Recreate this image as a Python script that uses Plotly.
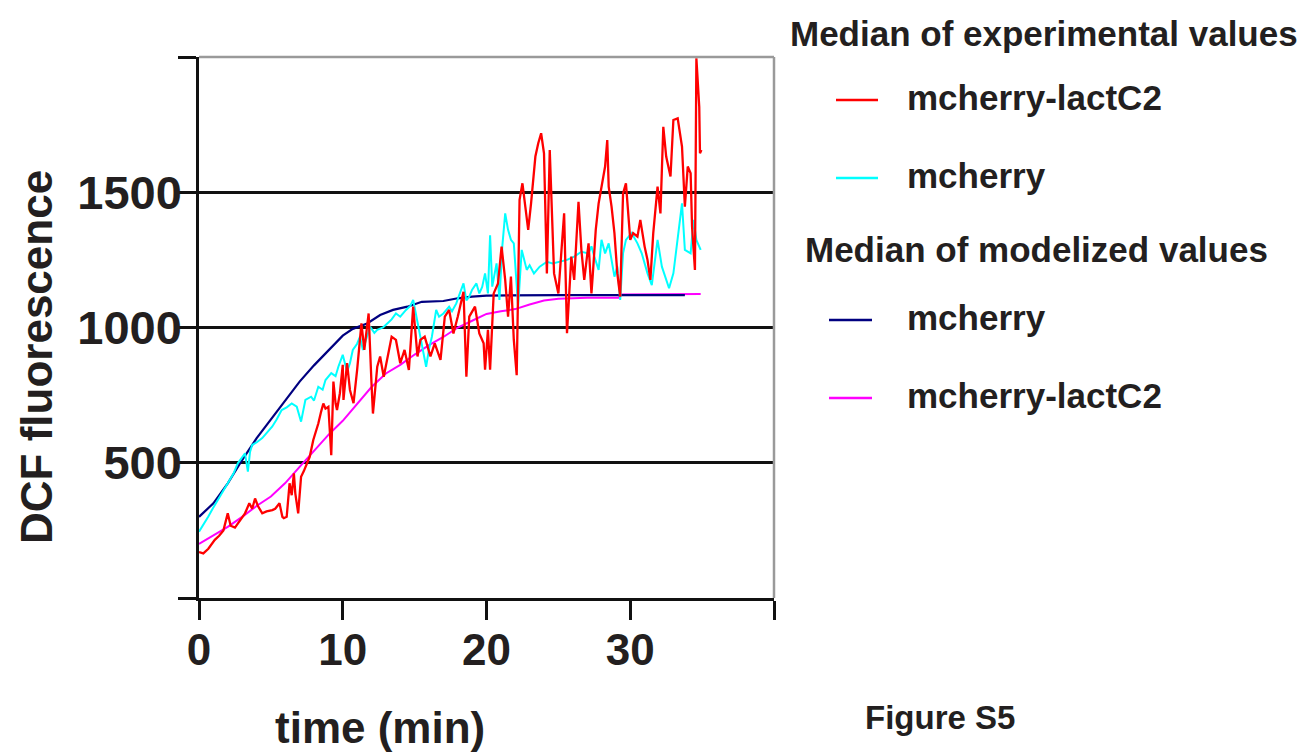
import plotly.graph_objects as go

# ---------------- data ----------------
red_t = [0, 0.3, 0.65, 0.9, 1.1, 1.4, 1.7, 2.0, 2.2, 2.5, 2.7, 3.0, 3.2, 3.5, 3.7, 3.9, 4.1, 4.4, 4.7, 5.1,
         5.3, 5.6, 5.8, 5.9, 6.1, 6.3, 6.45, 6.6, 6.7, 6.9, 7.1, 7.3, 7.5, 7.7, 7.95, 8.1, 8.3, 8.5, 8.65, 8.8,
         9.0, 9.2, 9.35, 9.5, 9.6, 9.8, 10.0, 10.05, 10.3, 10.5, 10.75, 11.0, 11.3, 11.5, 11.8, 12.0, 12.1, 12.4,
         12.6, 12.85, 13.2, 13.4, 13.7, 14.0, 14.3, 14.6, 14.9, 15.2, 15.4, 15.7, 16.1, 16.4, 16.8, 17.1, 17.4,
         17.7, 18.0, 18.4, 18.6, 18.8, 19.2, 19.5, 19.8, 19.9, 20.1, 20.25, 20.5, 20.8, 21.05, 21.3, 21.5, 21.7,
         21.9, 22.1, 22.3, 22.5, 22.7, 22.9, 23.1, 23.4, 23.6, 23.8, 24.0, 24.2, 24.4, 24.6, 24.7, 25.0, 25.4,
         25.6, 25.9, 26.1, 26.4, 26.6, 26.8, 27.1, 27.3, 27.4, 27.6, 27.8, 28.0, 28.25, 28.4, 28.5, 28.7, 28.9,
         29.1, 29.3, 29.5, 29.7, 30.0, 30.2, 30.5, 30.7, 31.0, 31.2, 31.4, 31.6, 31.9, 32.1, 32.3, 32.5, 32.8,
         33.0, 33.3, 33.6, 33.8, 34.0, 34.2, 34.3, 34.5, 34.6, 34.8, 34.85, 34.95]
red_v = [170, 165, 182, 200, 215, 230, 250, 313, 267, 260, 276, 300, 313, 350, 330, 368, 340, 313, 320, 325,
         330, 350, 300, 295, 300, 424, 380, 461, 387, 313, 448, 470, 497, 522, 584, 610, 645, 690, 719, 700,
         707, 528, 800, 720, 695, 757, 862, 732, 868, 769, 720, 843, 1015, 917, 1052, 794, 682, 855,
         893, 818, 917, 966, 954, 868, 917, 843, 1077, 893, 954, 966, 893, 941, 880, 1040, 1065,
         978, 1040, 1132, 818, 1040, 1077, 978, 942, 844, 991, 844, 1126, 1163, 1299, 1176, 1040, 1188,
         954, 824, 1472, 1533, 1447, 1361, 1459, 1632, 1681, 1718, 1644, 1200, 1656, 1385, 1200, 1126, 1422,
         979, 1262, 1176, 1465, 1287, 1176, 1311, 1126, 1200, 1361, 1459, 1521, 1595, 1693, 1521, 1447, 1349,
         1200, 1114, 1496, 1533, 1324, 1349, 1336, 1398, 1299, 1250, 1176, 1349, 1521, 1422, 1742, 1632, 1558,
         1767, 1773, 1669, 1447, 1595, 1570, 1373, 1213, 1995, 1816, 1644, 1656]

cyan_t = [0, 0.3, 0.65, 1.0, 1.3, 1.7, 2.0, 2.4, 2.7, 3.0, 3.2, 3.4, 3.55, 3.7, 4.0, 4.4, 4.7, 5.1, 5.4, 5.75,
          6.1, 6.45, 6.8, 7.1, 7.4, 7.8, 8.0, 8.3, 8.6, 8.8, 9.2, 9.5, 9.7, 10.0, 10.3, 10.5, 10.7, 11.0, 11.2,
          11.4, 11.9, 12.2, 12.4, 12.8, 13.1, 13.4, 13.7, 14.0, 14.4, 14.7, 14.9, 15.1, 15.3, 15.6, 15.8, 16.0,
          16.2, 16.5, 16.7, 17.0, 17.4, 17.6, 17.9, 18.1, 18.4, 18.6, 18.8, 19.0, 19.3, 19.5, 19.7, 19.9, 20.1,
          20.25, 20.4, 20.7, 20.9, 21.1, 21.3, 21.5, 21.7, 21.9, 22.2, 22.45, 22.8, 23.0, 23.3, 23.7, 24.2, 24.6,
          25.1, 25.6, 26.1, 26.6, 27.1, 27.3, 27.5, 27.8, 28.0, 28.25, 28.5, 28.7, 28.9, 29.1, 29.3, 29.5, 29.7,
          30.1, 30.5, 30.8, 31.2, 31.5, 31.9, 32.2, 32.7, 33.0, 33.4, 33.6, 33.8, 34.2, 34.4, 34.6, 34.9]
cyan_v = [245, 270, 301, 335, 363, 395, 424, 460, 498, 520, 535, 467, 540, 566, 575, 591, 610, 634, 660, 695,
          705, 719, 707, 652, 732, 744, 730, 781, 770, 806, 831, 820, 856, 899, 837, 868, 917, 940, 966,
          917, 1003, 980, 991, 1000, 1015, 1030, 1052, 1040, 1065, 1080, 1102, 1050, 991, 917, 855, 920,
          966, 1065, 1040, 1052, 1077, 1060, 1089, 1120, 1163, 1100, 1114, 1140, 1163, 1126, 1150, 1200, 1126,
          1341, 1151, 1237, 1102, 1300, 1422, 1361, 1324, 1311, 1077, 1287, 1213, 1230, 1200, 1225, 1243, 1237,
          1243, 1250, 1262, 1280, 1274, 1300, 1262, 1213, 1324, 1274, 1311, 1250, 1188, 1225, 1102, 1274, 1324,
          1349, 1311, 1274, 1200, 1157, 1324, 1225, 1145, 1200, 1385, 1459, 1287, 1274, 1398, 1324, 1287]

navy_t = [0, 0.5, 1, 2, 3, 4, 5, 6, 7, 8, 9, 10, 10.7, 11.7, 12.6, 13.5, 14.5, 15.5, 17, 18, 19, 20, 25, 33.8]
navy_v = [300, 325, 350, 424, 510, 590, 660, 730, 800, 860, 917, 970, 995, 1015, 1046, 1065, 1077, 1095,
          1098, 1108, 1114, 1118, 1120, 1120]

magenta_t = [0, 1, 2, 3, 4, 5, 6, 7, 8, 9, 10, 11, 12, 13, 14, 15, 16, 17, 18, 19, 20, 21, 22, 23, 24, 25,
             26, 27, 29.2, 29.3, 34.9]
magenta_v = [200, 230, 263, 300, 340, 375, 425, 485, 545, 603, 655, 719, 780, 830, 862, 900, 935, 965, 1000,
             1025, 1050, 1060, 1068, 1085, 1100, 1106, 1108, 1110, 1110, 1122, 1124]

x_tickvals = [0, 10, 20, 30, 40]
x_ticktext = ["0", "10", "20", "30", ""]
y_tickvals = [0, 500, 1000, 1500, 2000]
y_ticktext = ["", "500", "1000", "1500", ""]

# ---------------- figure ----------------
OFF = 8                      # page body margin of the browser
W, H = 1307 - OFF, 752 - OFF
L, R, T, B = 199, 774, 57, 598  # plot area in window pixels
FONT = "Liberation Sans, Arial, Helvetica, sans-serif"
TXT = "#231f20"

def px(xp):
    return (xp - L) / (R - L)

def py(yp):
    return (B - yp) / (B - T)

fig = go.Figure()
fig.add_trace(go.Scatter(x=magenta_t, y=magenta_v, mode="lines", line=dict(color="#ff00ff", width=2),
                         name="mcherry-lactC2 (model)"))
fig.add_trace(go.Scatter(x=navy_t, y=navy_v, mode="lines", line=dict(color="#000080", width=2.2),
                         name="mcherry (model)"))
fig.add_trace(go.Scatter(x=cyan_t, y=cyan_v, mode="lines", line=dict(color="#00ffff", width=2),
                         name="mcherry"))
fig.add_trace(go.Scatter(x=red_t, y=red_v, mode="lines", line=dict(color="#ff0000", width=2.3),
                         name="mcherry-lactC2"))

fig.update_layout(
    width=W, height=H,
    margin=dict(l=L - OFF, r=W - (R - OFF), t=T - OFF, b=H - (B - OFF), pad=0),
    paper_bgcolor="white", plot_bgcolor="white",
    showlegend=False,
    font=dict(family=FONT, color=TXT),
    xaxis=dict(range=[0, 40], tickvals=x_tickvals, ticktext=x_ticktext,
               showgrid=False, zeroline=False,
               showline=True, linecolor="#111", linewidth=2.5,
               ticks="outside", ticklen=19, tickwidth=2.5, tickcolor="#111",
               tickfont=dict(family=FONT, size=44, color=TXT, weight="bold"),
               ticklabelstandoff=-8),
    yaxis=dict(range=[0, 2000], tickvals=y_tickvals, ticktext=y_ticktext,
               showgrid=True, gridcolor="#111", gridwidth=2.5, zeroline=False,
               showline=True, linecolor="#111", linewidth=2.5,
               ticks="outside", ticklen=18, tickwidth=2.5, tickcolor="#111",
               tickfont=dict(family=FONT, size=47, color=TXT, weight="bold"),
               ticklabelstandoff=-13),
)

# top and right frame (grey)
fig.add_shape(type="line", xref="paper", yref="paper", x0=0, x1=1, y0=1, y1=1,
              line=dict(color="#9a9a9a", width=2.5), layer="above")
fig.add_shape(type="line", xref="paper", yref="paper", x0=1, x1=1, y0=0, y1=1,
              line=dict(color="#9a9a9a", width=2.5), layer="above")

def ann(text, x, y, size, xanchor="left", angle=0):
    fig.add_annotation(text=text, xref="paper", yref="paper", x=px(x), y=py(y),
                       xanchor=xanchor, yanchor="middle", showarrow=False, textangle=angle,
                       font=dict(family=FONT, size=size, color=TXT, weight="bold"))

# axis titles
ann("time (min)", 380, 727, 44, xanchor="center")
ann("DCF fluorescence", 36, 357, 44, xanchor="center", angle=-90)

# custom legend
ann("Median of experimental values", 788, 34, 35)
ann("mcherry-lactC2", 905, 97, 35)
ann("mcherry", 905, 175, 35)
ann("Median of modelized values", 803, 250, 35)
ann("mcherry", 905, 317, 35)
ann("mcherry-lactC2", 905, 395, 35)
ann("Figure S5", 863, 717, 33)

for x0, x1, yy, col in [(836, 878, 100, "#ff0000"), (836, 878, 178, "#00ffff"),
                        (829, 872, 320, "#000080"), (829, 872, 398, "#ff00ff")]:
    fig.add_shape(type="line", xref="paper", yref="paper", x0=px(x0), x1=px(x1), y0=py(yy), y1=py(yy),
                  line=dict(color=col, width=2.5))

fig.write_html("out.html")
